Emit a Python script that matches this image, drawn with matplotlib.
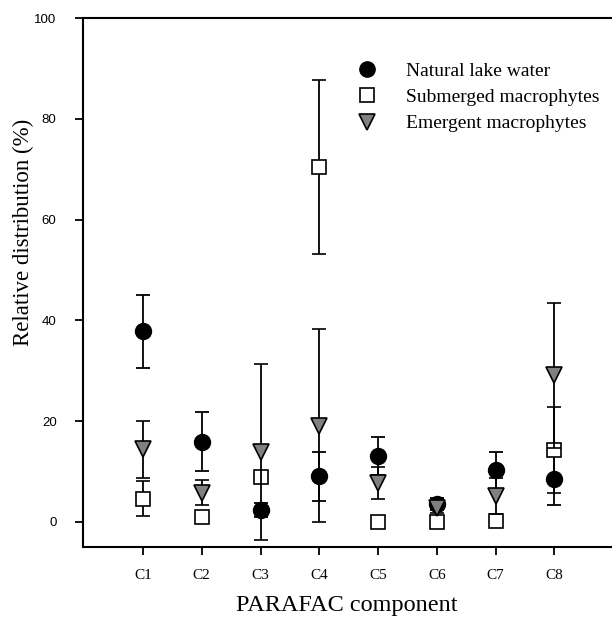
import matplotlib
matplotlib.use("Agg")
import matplotlib.pyplot as plt
from matplotlib.lines import Line2D

components = ["C1", "C2", "C3", "C4", "C5", "C6", "C7", "C8"]

# mean and SD
lake = [37.8, 15.9, 2.3, 9.0, 13.0, 3.6, 10.2, 8.4]
lake_sd = [7.3, 5.8, 1.4, 4.9, 3.8, 1.2, 3.7, 5.0]
submerged = [4.6, 1.0, 8.8, 70.4, 0.0, 0.0, 0.2, 14.3]
submerged_sd = [3.4, 0.0, 0.0, 17.3, 0.0, 0.0, 0.0, 8.5]
emergent = [14.4, 5.8, 13.9, 19.1, 7.7, 2.8, 5.1, 29.1]
emergent_sd = [5.7, 2.4, 17.5, 19.2, 3.2, 1.0, 3.6, 14.4]

labels = ["Natural lake water", "Submerged macrophytes", "Emergent macrophytes"]

serif = "Liberation Serif"
sans = "Liberation Sans"

fig = plt.figure(figsize=(6.12, 6.17), dpi=100)
ax = fig.add_axes([0.1356, 0.1135, 0.8644, 0.8573])

x = list(range(1, len(components) + 1))
eb = dict(ecolor="black", elinewidth=1.3, capsize=5, capthick=1.3, linestyle="none")

ax.errorbar(x, lake, yerr=lake_sd, fmt="o", ms=11.5, mfc="black", mec="black", zorder=3, **eb)
ax.errorbar(x, submerged, yerr=submerged_sd, fmt="s", ms=10, mfc="white", mec="black", mew=1.2, zorder=4, **eb)
ax.errorbar(x, emergent, yerr=emergent_sd, fmt="v", ms=11.5, mfc="#808080", mec="black", mew=1.2, zorder=5, **eb)

ax.set_xlim(-0.02, 8.98)
ax.set_ylim(-5, 100)
ax.set_xticks(x)
ax.set_xticklabels(components, fontfamily=serif, fontsize=11)
ax.set_yticks([0, 20, 40, 60, 80, 100])
ax.set_yticklabels(["0", "20", "40", "60", "80", "100"], fontfamily=sans, fontsize=9.5)
ax.tick_params(direction="out", length=6, width=1.3)
ax.tick_params(axis="x", pad=10)
ax.tick_params(axis="y", pad=13)

for s in ["left", "bottom", "top"]:
    ax.spines[s].set_linewidth(1.5)
ax.spines["right"].set_visible(False)

fig.text(0.5675, 1 - 611 / 617, "PARAFAC component", ha="center", va="baseline",
         fontfamily=serif, fontsize=17.5)
fig.text(23 / 612, 1 - 232 / 617, "Relative distribution (%)", rotation=90,
         ha="center", va="center", fontfamily=serif, fontsize=16.5)

handles = [
    Line2D([], [], marker="o", ls="none", ms=11, mfc="black", mec="black"),
    Line2D([], [], marker="s", ls="none", ms=9.5, mfc="white", mec="black", mew=1.2),
    Line2D([], [], marker="v", ls="none", ms=11, mfc="#808080", mec="black", mew=1.2),
]
ax.legend(handles, labels, loc="upper left", bbox_to_anchor=(0.556, 0.912),
          bbox_transform=fig.transFigure, frameon=False,
          prop={"family": serif, "size": 14}, handletextpad=1.0,
          labelspacing=0.45, borderaxespad=0)

fig.savefig("out.png", dpi=100)
